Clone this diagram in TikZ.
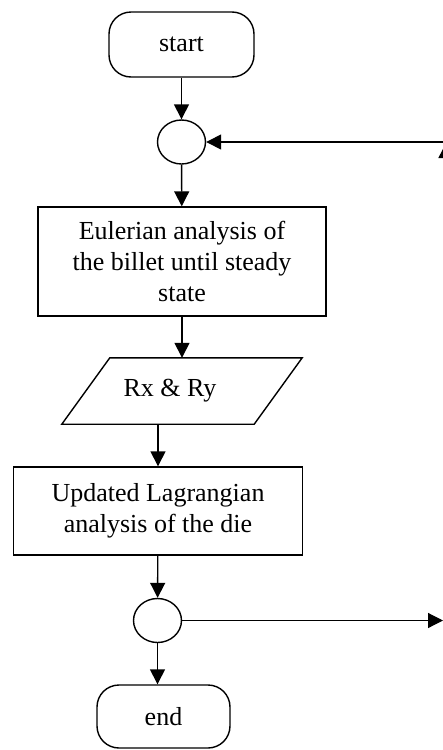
\documentclass[tikz,border=0pt]{standalone}
\usepackage{fontspec}
\setmainfont{Liberation Serif}
\usetikzlibrary{shapes.geometric,arrows.meta}
\begin{document}
\begin{tikzpicture}[x=1pt, y=-1pt,
    box/.style={draw=black, line width=1.4pt, align=center, inner sep=0pt},
    term/.style={box, rounded corners=22pt},
    joint/.style={draw=black, line width=1.4pt, ellipse, inner sep=0pt, minimum width=48pt, minimum height=44pt},
    arr/.style={line width=1.4pt, -{Triangle[length=15pt, width=15pt]}},
    font=\fontsize{26}{31}\selectfont]
    \useasboundingbox (0,0) rectangle (443,750);
    \node[term, minimum width=145pt, minimum height=65pt] (start) at (181.5,44.5) {start};
    \node[joint] (c1) at (181.5,142) {};
    \node[box, minimum width=288pt, minimum height=109pt] (euler) at (182,261.5)
        {Eulerian analysis of\\the billet until steady\\state};
    \node[inner sep=0pt, minimum width=192pt, minimum height=66pt] (rxry) at (170,391) {Rx \& Ry};
    \draw[line width=1.4pt] ([xshift=36pt]rxry.north west) -- ([xshift=36pt]rxry.north east)
        -- ([xshift=-12pt]rxry.south east) -- ([xshift=-12pt]rxry.south west) -- cycle;
    \node[box, minimum width=289pt, minimum height=88pt] (lag) at (158,511)
        {Updated Lagrangian\\analysis of the die};
    \node[joint] (c2) at (157.5,620.5) {};
    \node[term, minimum width=133pt, minimum height=63pt] (end) at (163.5,716.5) {end};
    % loop ends running off the right edge
    \coordinate (ret) at (443,142);
    \coordinate (retlow) at (446,220);
    \coordinate (rettip) at (446,143);
    \coordinate (out) at (443,620.5);
    \draw[arr] (start) -- (c1);
    \draw[arr] (c1) -- (euler);
    \draw[arr] (euler.south) -- (euler.south |- rxry.north);
    \draw[arr] (lag.north |- rxry.south) -- (lag.north);
    \draw[arr] (lag) -- (c2);
    \draw[arr] (c2.south) -- (c2.south |- end.north);
    \draw[arr] (ret) -- (c1.east);
    \draw[arr] (retlow) -- (rettip);
    \draw[arr, line width=1.2pt] (c2.east) -- (out);
\end{tikzpicture}
\end{document}
